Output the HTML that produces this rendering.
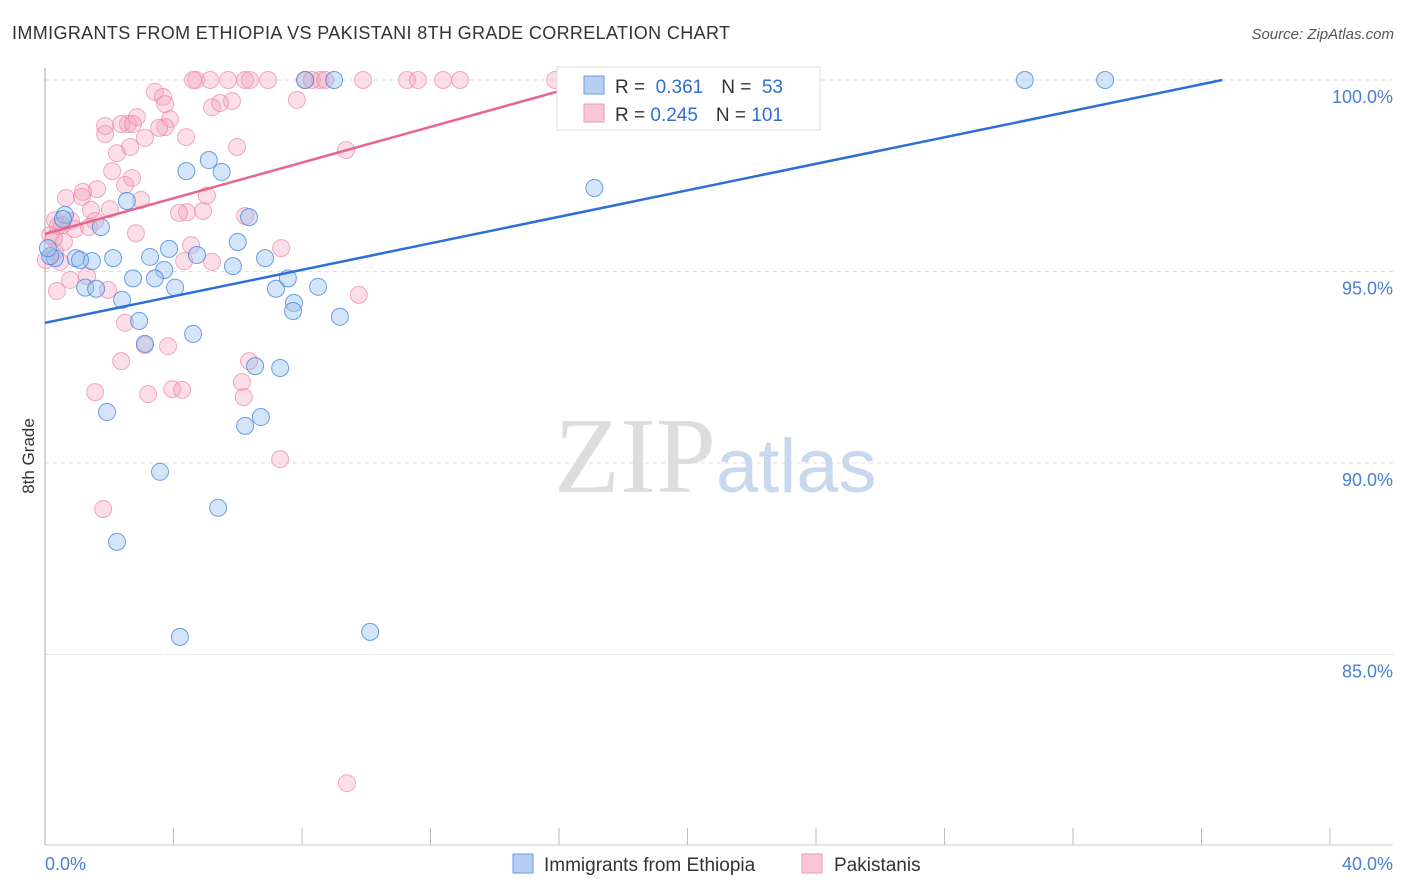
<!DOCTYPE html>
<html><head><meta charset="utf-8"><style>
body{margin:0;background:#fff;font-family:"Liberation Sans",sans-serif;}
#c{position:absolute;left:0;top:0;}
</style></head><body>
<svg id="c" width="1406" height="892">
<text x="12" y="39" font-size="18" fill="#333" textLength="718">IMMIGRANTS FROM ETHIOPIA VS PAKISTANI 8TH GRADE CORRELATION CHART</text>
<text x="1394" y="39" font-size="15" fill="#555" font-style="italic" text-anchor="end">Source: ZipAtlas.com</text>
<text x="34" y="456" font-size="17" fill="#333" transform="rotate(-90 34 456)" text-anchor="middle">8th Grade</text>
<g id="grid"></g>
<line x1="45" y1="68" x2="45" y2="845" stroke="#aaa"/>
<line x1="45" y1="845" x2="1393" y2="845" stroke="#ccc"/>
<text x="716" y="492" font-size="108" fill="#ddd" font-family="Liberation Serif,serif" text-anchor="end">ZIP</text>
<text x="716" y="492" font-size="76" fill="#c8d8ee">atlas</text>
<g id="pts"></g>
<g id="lines"></g>
<text x="45" y="870" font-size="18" fill="#4a7fd4">0.0%</text>
<text x="1393" y="870" font-size="18" fill="#4a7fd4" text-anchor="end">40.0%</text>
<g>
<rect x="557" y="67" width="263" height="63" fill="#fff" stroke="#ddd"/>
<rect x="584" y="76" width="20" height="18" fill="#b5cff3" stroke="#6b9be0"/>
<rect x="584" y="104" width="20" height="18" fill="#f8c6d4" stroke="#ec9ab2"/>
<text x="615" y="93" font-size="19" fill="#333">R = <tspan fill="#2e6fd1">&#160;0.361</tspan><tspan dx="18">N = </tspan><tspan fill="#2e6fd1">&#160;53</tspan></text>
<text x="615" y="121" font-size="19" fill="#333">R = <tspan fill="#2e6fd1">0.245</tspan><tspan dx="18">N = </tspan><tspan fill="#2e6fd1">101</tspan></text>
</g>
<g>
<rect x="513" y="854" width="20" height="19" fill="#b5cff3" stroke="#6b9be0"/>
<text x="544" y="871" font-size="19" fill="#333">Immigrants from Ethiopia</text>
<rect x="802" y="854" width="20" height="19" fill="#f8c6d4" stroke="#ec9ab2"/>
<text x="834" y="871" font-size="19" fill="#333">Pakistanis</text>
</g>
</svg>
<script>
const yTicks=[100,95,90,85];
const xTicks=[0,4,8,12,16,20,24,28,32,36,40];
const blueX=[30.5,33,23.3,8.1,9,17.1,5.1,4.4,5.5,2.55,6.35,1.74,0.62,6.0,3.86,4.73,3.27,2.12,1.46,6.85,0.96,0.31,3.71,5.85,2.74,3.42,7.56,1.25,1.59,4.05,7.19,8.5,2.4,7.75,7.72,9.18,2.93,3.11,4.61,6.54,7.32,1.93,6.23,6.72,3.58,5.39,2.24,4.2,10.12,0.16,0.56,0.09,1.09];
const blueY=[100,100,100,100,100,97.18,97.91,97.62,97.6,96.84,96.42,96.16,96.48,95.77,95.59,95.43,95.38,95.35,95.27,95.35,95.35,95.35,95.04,95.14,94.82,94.82,94.82,94.58,94.55,94.58,94.55,94.6,94.26,94.18,93.97,93.82,93.71,93.11,93.37,92.53,92.48,91.33,90.97,91.2,89.77,88.83,87.94,85.46,85.59,95.4,96.37,95.61,95.3];
const pinkX=[4.7,5.14,5.7,6.23,6.94,8.09,8.56,9.9,11.27,11.61,12.39,12.92,15.88,4.61,6.38,8.31,8.72,3.42,3.67,3.74,5.82,5.2,7.84,5.45,2.86,1.87,2.58,2.37,2.74,3.89,3.74,3.55,1.87,3.11,4.39,5.98,2.24,2.65,9.37,2.09,2.71,2.49,1.62,1.18,0.65,1.15,5.04,2.99,2.02,1.43,4.92,4.42,4.17,6.23,0.31,0.81,1.56,0.53,0.93,0.16,2.83,1.37,0.59,4.55,7.35,0.31,0.03,4.33,5.2,0.47,1.31,0.78,0.37,1.96,9.77,2.49,2.37,6.35,3.11,3.83,6.13,3.96,4.27,1.56,3.21,6.19,7.32,1.81,9.4,0.28,0.4];
const pinkY=[100,100,100,100,100,100,100,100,100,100,100,100,100,100,100,100,100,99.69,99.56,99.37,99.45,99.29,99.48,99.4,99.03,98.8,98.85,98.85,98.85,98.98,98.77,98.75,98.59,98.49,98.51,98.25,98.09,98.25,98.17,97.62,97.44,97.26,97.15,97.08,96.92,96.95,96.98,96.87,96.63,96.61,96.58,96.55,96.53,96.45,96.34,96.32,96.32,96.21,96.11,95.95,96.0,96.16,95.77,95.69,95.61,95.51,95.3,95.27,95.25,95.25,94.88,94.78,94.49,94.52,94.39,93.66,92.66,92.66,93.08,93.05,92.11,91.93,91.91,91.85,91.8,91.72,90.1,88.8,81.64,95.87,96.19];
const blueFit=[93.66,0.173];
const pinkFit=[95.98,0.233];
const X=v=>45+v*32.125, Y=v=>80+(100-v)*38.3;
const NS="http://www.w3.org/2000/svg";
function mk(t,a,p){const e=document.createElementNS(NS,t);for(const k in a)e.setAttribute(k,a[k]);p.appendChild(e);return e;}
const grid=document.getElementById('grid');
yTicks.forEach(t=>{
const l=mk('line',{x1:45,x2:1393,y1:Y(t),y2:Y(t),stroke:'#ddd','stroke-dasharray':'4,4'},grid);


const tx=mk('text',{x:1393,y:Y(t)+23,'font-size':18,fill:'#4a7fd4','text-anchor':'end'},grid);
tx.textContent=t.toFixed(1)+'%';


});
xTicks.forEach(t=>{
const l=mk('line',{x1:X(t),x2:X(t),y1:828,y2:845,stroke:'#bbb'},grid);


});
const pts=document.getElementById('pts');
pinkX.forEach((v,i)=>{
const c=mk('circle',{cx:X(v),cy:Y(pinkY[i]),r:8.5,fill:'rgba(244,160,185,0.35)',stroke:'rgba(236,120,155,0.6)'},pts);


});
blueX.forEach((v,i)=>{
const c=mk('circle',{cx:X(v),cy:Y(blueY[i]),r:8.5,fill:'rgba(150,190,240,0.4)',stroke:'rgba(60,130,220,0.75)'},pts);


});
const lines=document.getElementById('lines');
const bEnd=(100-blueFit[0])/blueFit[1];
const bl=mk('line',{x1:X(0),y1:Y(blueFit[0]),x2:X(bEnd),y2:Y(100),stroke:'#2d6fd6','stroke-width':2.5},lines);


const pEnd=(100-pinkFit[0])/pinkFit[1];
const pl=mk('line',{x1:X(0),y1:Y(pinkFit[0]),x2:X(pEnd),y2:Y(100),stroke:'#e8658e','stroke-width':2.5},lines);


</script>
</body></html>
